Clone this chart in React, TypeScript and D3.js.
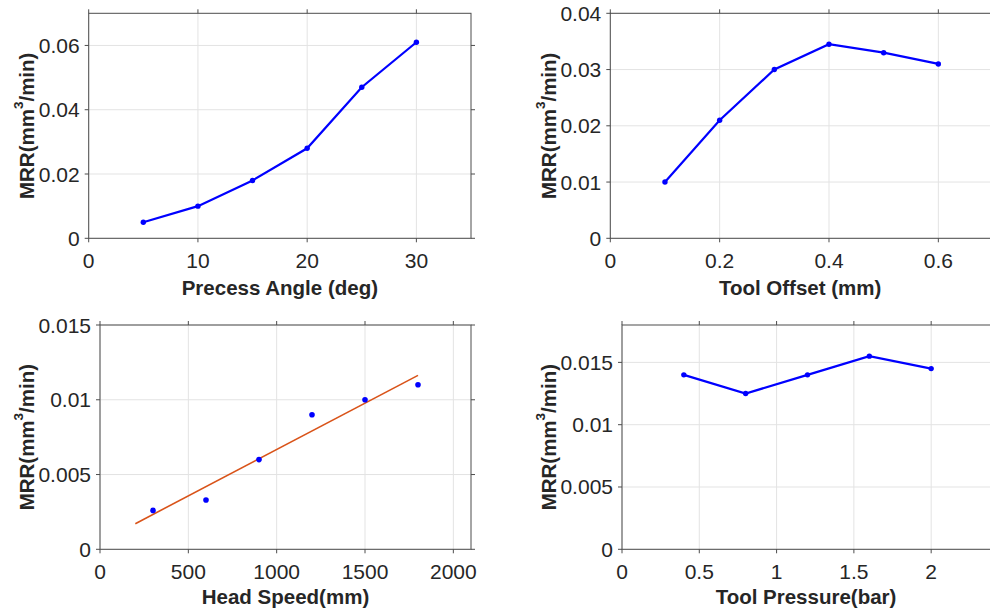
import React from "react";
import * as d3 from "d3";

const angleX = [5, 10, 15, 20, 25, 30];
const angleMRR = [0.005, 0.01, 0.018, 0.028, 0.047, 0.061];
const offsetX = [0.1, 0.2, 0.3, 0.4, 0.5, 0.6];
const offsetMRR = [0.01, 0.021, 0.03, 0.0345, 0.033, 0.031];
const speedX = [300, 600, 900, 1200, 1500, 1800];
const speedMRR = [0.0026, 0.0033, 0.006, 0.009, 0.01, 0.011];
const speedFitRange = [200, 1800];
const pressureX = [0.4, 0.8, 1.2, 1.6, 2.0];
const pressureMRR = [0.014, 0.0125, 0.014, 0.0155, 0.0145];

const xTicks1 = [0, 10, 20, 30];
const yTicks1 = [0, 0.02, 0.04, 0.06];
const xTicks2 = [0, 0.2, 0.4, 0.6];
const yTicks2 = [0, 0.01, 0.02, 0.03, 0.04];
const xTicks3 = [0, 500, 1000, 1500, 2000];
const yTicks3 = [0, 0.005, 0.01, 0.015];
const xTicks4 = [0, 0.5, 1, 1.5, 2];
const yTicks4 = [0, 0.005, 0.01, 0.015];

const xLabels = ["Precess Angle (deg)", "Tool Offset (mm)", "Head Speed(mm)", "Tool Pressure(bar)"];

const FONT = "'Liberation Sans', Arial, Helvetica, sans-serif";

type PanelProps = {
  left: number; right: number; top: number; bottom: number;
  xDomain: number[]; yDomain: number[];
  xTicks: number[]; yTicks: number[];
  xLabel: string; yLabelX: number; xLabelY: number;
  xs: number[]; ys: number[];
  mode: "line" | "scatter";
};

function Panel(p: PanelProps) {
  const x = d3.scaleLinear().domain(p.xDomain).range([p.left, p.right]);
  const y = d3.scaleLinear().domain(p.yDomain).range([p.bottom, p.top]);
  const axisColor = "#4d4d4d";
  const gridColor = "#e3e3e3";
  const pts = p.xs.map((v, i) => [v, p.ys[i]] as [number, number]);
  const line = d3.line<[number, number]>().x(d => x(d[0])).y(d => y(d[1]));

  let fit: React.ReactNode = null;
  if (p.mode === "scatter") {
    const mx = d3.mean(p.xs)!;
    const my = d3.mean(p.ys)!;
    const sxy = d3.sum(p.xs.map((v, i) => (v - mx) * (p.ys[i] - my)));
    const sxx = d3.sum(p.xs.map(v => (v - mx) * (v - mx)));
    const slope = sxy / sxx;
    const fitPts = speedFitRange.map(v => [v, my + slope * (v - mx)] as [number, number]);
    fit = <path d={line(fitPts)!} fill="none" stroke="#D95319" strokeWidth={1.6} />;
  }

  const cy = (p.top + p.bottom) / 2;
  const cx = (p.left + Math.min(p.right, 990)) / 2;
  return (
    <g>
      {p.xTicks.map(t => (
        <line key={"gx" + t} x1={x(t)} x2={x(t)} y1={p.top} y2={p.bottom} stroke={gridColor} strokeWidth={1} />
      ))}
      {p.yTicks.map(t => (
        <line key={"gy" + t} x1={p.left} x2={p.right} y1={y(t)} y2={y(t)} stroke={gridColor} strokeWidth={1} />
      ))}
      <rect x={p.left} y={p.top} width={p.right - p.left} height={p.bottom - p.top} fill="none" stroke={axisColor} strokeWidth={1} />
      {p.xTicks.map(t => (
        <g key={"tx" + t}>
          <line x1={x(t)} x2={x(t)} y1={p.bottom} y2={p.bottom + 4} stroke={axisColor} />
          <line x1={x(t)} x2={x(t)} y1={p.top} y2={p.top - 4} stroke={axisColor} />
          <text x={x(t)} y={p.bottom + 30} textAnchor="middle" fontSize={21} fill="#262626" fontFamily={FONT}>{String(t)}</text>
        </g>
      ))}
      {p.yTicks.map(t => (
        <g key={"ty" + t}>
          <line x1={p.left} x2={p.left - 4} y1={y(t)} y2={y(t)} stroke={axisColor} />
          <line x1={p.right} x2={p.right + 4} y1={y(t)} y2={y(t)} stroke={axisColor} />
          <text x={p.left - 9} y={y(t) + 7.5} textAnchor="end" fontSize={21} fill="#262626" fontFamily={FONT}>{String(t)}</text>
        </g>
      ))}
      {fit}
      {p.mode === "line" && <path d={line(pts)!} fill="none" stroke="#0000ff" strokeWidth={2.2} />}
      {pts.map((d, i) => (
        <circle key={i} cx={x(d[0])} cy={y(d[1])} r={p.mode === "line" ? 2.7 : 2.8} fill="#0000ff" />
      ))}
      <text x={cx} y={p.xLabelY} textAnchor="middle" fontSize={20.5} fontWeight="bold" fill="#262626" fontFamily={FONT}>{p.xLabel}</text>
      <text transform={`translate(${p.yLabelX},${cy}) rotate(-90)`} textAnchor="middle" dominantBaseline="central" fontSize={20.5} fontWeight="bold" fill="#262626" fontFamily={FONT}>
        MRR(mm<tspan fontSize={13.5} dy={-8}>3</tspan><tspan dy={8}>/min)</tspan>
      </text>
    </g>
  );
}

export default function App() {
  return (
    <svg width={990} height={613} style={{ position: "absolute", left: 0, top: 0, background: "#fff" }}>
      <rect width={990} height={613} fill="#fff" />
      <Panel left={88.7} right={471} top={13.3} bottom={238.3} xDomain={[0, 35]} yDomain={[0, 0.07]}
        xTicks={xTicks1} yTicks={yTicks1} xLabel={xLabels[0]} yLabelX={26} xLabelY={295}
        xs={angleX} ys={angleMRR} mode="line" />
      <Panel left={610.3} right={993} top={13.3} bottom={238.3} xDomain={[0, 0.7]} yDomain={[0, 0.04]}
        xTicks={xTicks2} yTicks={yTicks2} xLabel={xLabels[1]} yLabelX={548} xLabelY={295}
        xs={offsetX} ys={offsetMRR} mode="line" />
      <Panel left={100} right={471} top={325} bottom={549.3} xDomain={[0, 2100]} yDomain={[0, 0.015]}
        xTicks={xTicks3} yTicks={yTicks3} xLabel={xLabels[2]} yLabelX={26} xLabelY={604}
        xs={speedX} ys={speedMRR} mode="scatter" />
      <Panel left={622} right={993} top={325} bottom={549.3} xDomain={[0, 2.4]} yDomain={[0, 0.018]}
        xTicks={xTicks4} yTicks={yTicks4} xLabel={xLabels[3]} yLabelX={548} xLabelY={604}
        xs={pressureX} ys={pressureMRR} mode="line" />
    </svg>
  );
}
